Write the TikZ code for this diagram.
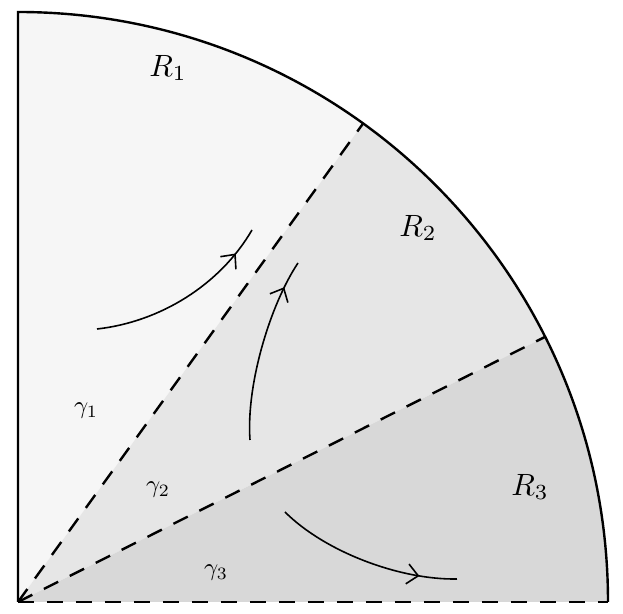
\documentclass[tikz,border=0pt]{standalone}
\usetikzlibrary{arrows.meta,decorations.markings}
\definecolor{rone}{HTML}{F6F6F6}
\definecolor{rtwo}{HTML}{E6E6E6}
\definecolor{rthree}{HTML}{D8D8D8}
\tikzset{
  edge/.style={line width=1.2pt},
  ray/.style={line width=1.2pt, dash pattern=on 8pt off 6.5pt},
  flow/.style={line width=0.8pt, postaction={decorate},
    decoration={markings, mark=at position #1 with {\arrow{Straight Barb[length=5.5pt,width=10pt,line width=0.8pt]}}}},
  rlab/.style={scale=1.54},
  glab/.style={scale=1.24}
}
\begin{document}
\begin{tikzpicture}[x=0.5pt,y=0.5pt]
\useasboundingbox (-18,-12) rectangle (605,602);
\def\aone{54.2}
\def\atwo{26.7}
\coordinate (O) at (0,0);
\coordinate (T) at (90:590);
\coordinate (P1) at (\aone:590);
\coordinate (P2) at (\atwo:590);
\coordinate (E) at (0:590);
% fills
\fill[rone] (O) -- (T) arc[start angle=90, end angle=\aone, radius=590] -- cycle;
\fill[rtwo] (O) -- (P1) arc[start angle=\aone, end angle=\atwo, radius=590] -- cycle;
\fill[rthree] (O) -- (P2) arc[start angle=\atwo, end angle=0, radius=590] -- cycle;
% boundary
\draw[edge] (O) -- (T) arc[start angle=90, end angle=0, radius=590];
\draw[ray] (O) -- (E);
\draw[ray] (O) -- (P1);
\draw[ray] (O) -- (P2);
% flows
\coordinate (a1) at (79,273);
\coordinate (b1) at (234,372);
\coordinate (a2) at (232,162);
\coordinate (b2) at (280,339);
\coordinate (a3) at (267,90);
\coordinate (b3) at (439,23);
\draw[flow=0.85] (a1) .. controls (142,280) and (202,317) .. (b1);
\draw[flow=0.85] (a2) .. controls (228,217) and (252,297) .. (b2);
\draw[flow=0.8] (a3) .. controls (307,50) and (382,22) .. (b3);
% labels
\node[rlab] (r1) at (150,534) {$R_1$};
\node[rlab] (r2) at (400,374) {$R_2$};
\node[rlab] (r3) at (512,115) {$R_3$};
\node[glab] (g1) at (68,191) {$\gamma_1$};
\node[glab] (g2) at (140,112) {$\gamma_2$};
\node[glab] (g3) at (198,29) {$\gamma_3$};
\end{tikzpicture}
\end{document}
